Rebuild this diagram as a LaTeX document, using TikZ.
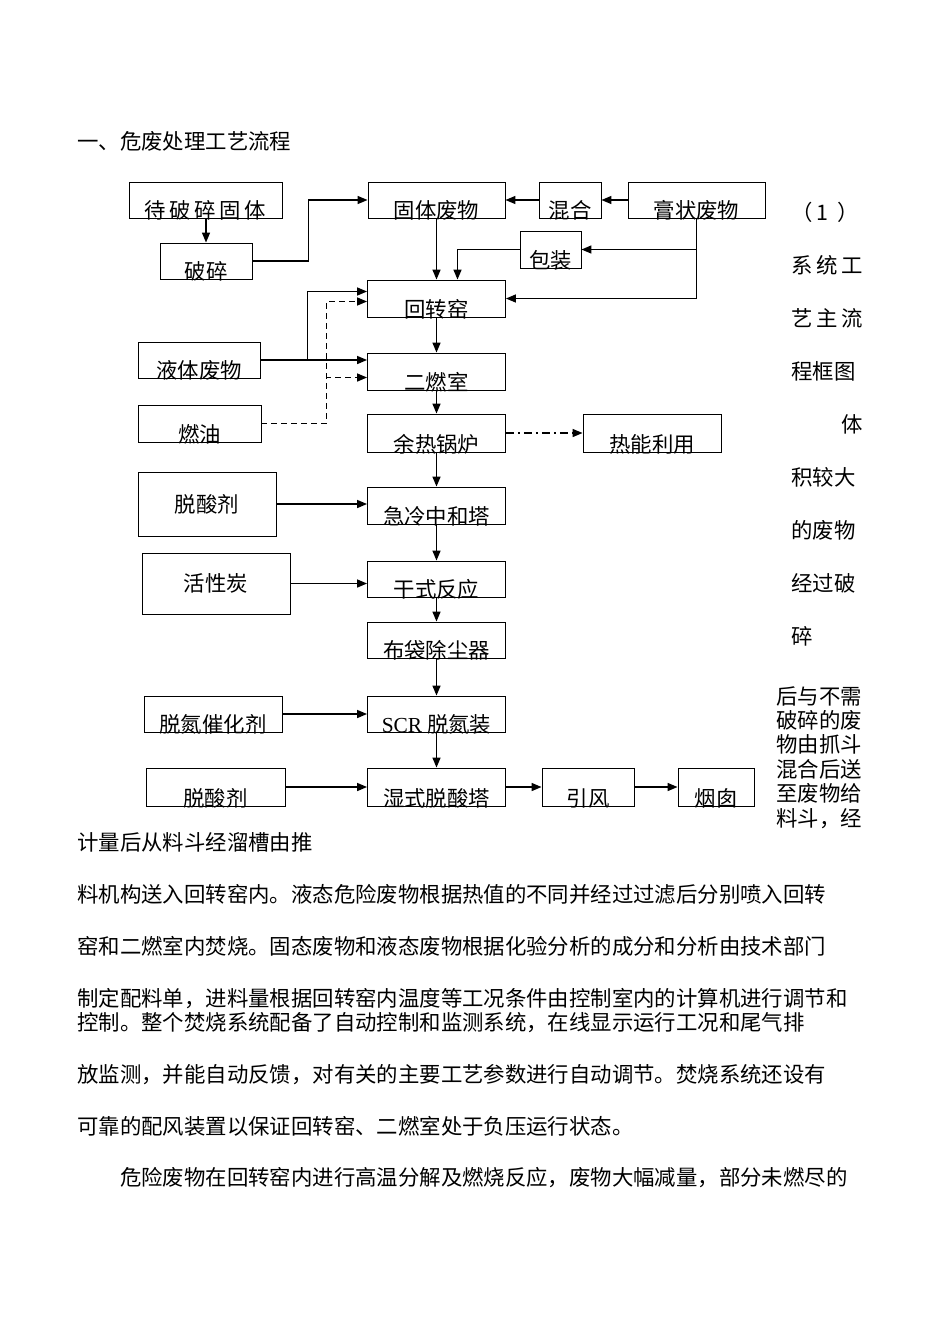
\documentclass[tikz,border=0pt]{standalone}
\usepackage{fontspec}
\setmainfont{Noto Sans CJK SC}
\newfontfamily\latinfont{Liberation Serif}
\usetikzlibrary{arrows.meta}
\newcommand\lblfont{\fontsize{21.4}{24}\selectfont}

\begin{document}
\begin{tikzpicture}[x=1pt, y=-1pt]
    \tikzstyle{every node} = [font=\lblfont]
    \tikzstyle{box} = [draw, line width=0.9pt, inner sep=0pt, text height=36pt, text depth=0pt]
    \tikzstyle{cbox} = [draw, line width=0.9pt, inner sep=0pt]
    \tikzstyle{arr} = [line width=1.5pt, -{Triangle[length=10pt,width=8pt]}]
    \tikzstyle{dasharr} = [arr, dash pattern=on 6pt off 4pt]
    \tikzstyle{dotarr} = [arr, dash pattern=on 8pt off 4pt on 2pt off 4pt]
    \tikzstyle{txt} = [inner sep=0pt, align=left]
    \useasboundingbox[fill=white] (0,0) rectangle (950,1344);

    % feed side
    \node[box, minimum width=153pt] (dps) at (205.5,200) {待\,破\,碎\,固\,体};
    \node[box, minimum width=92pt] (ps) at (206,261) {破碎};
    \node[box, minimum width=137pt] (gtfw) at (436.5,200) {固体废物};
    \node[box, minimum width=62pt] (hh) at (570,200) {混合};
    \node[box, minimum width=137pt] (gzfw) at (696.5,200) {膏状废物};
    \node[box, minimum width=61pt, text height=37pt] (bz) at (550.5,249.5) {包装};
    \node[box, minimum width=122pt] (ytfw) at (199,360) {液体废物};
    \node[box, minimum width=123pt, text height=37pt] (ry) at (199.5,423.5) {燃油};
    \node[cbox, minimum width=138pt, minimum height=64pt] (tsj) at (207,504) {脱酸剂};
    \node[cbox, minimum width=148pt, minimum height=61pt] (hxt) at (216,583.5) {活性炭};
    \node[box, minimum width=138pt] (tdch) at (213,714) {脱氮催化剂};
    \node[box, minimum width=139pt, text height=38pt] (tsj2) at (215.5,787) {脱酸剂};

    % main line
    \node[box, minimum width=138pt, text height=37pt] (hzy) at (436.5,298.5) {回转窑};
    \node[box, minimum width=138pt, text height=37pt] (erc) at (436.5,371.5) {二燃室};
    \node[box, minimum width=138pt, text height=38pt] (yrgl) at (436.5,433) {余热锅炉};
    \node[box, minimum width=138pt, text height=38pt] (rnly) at (652,433) {热能利用};
    \node[box, minimum width=138pt, text height=37pt] (jl) at (436.5,505.5) {急冷中和塔};
    \node[box, minimum width=138pt] (gsfy) at (436.5,579) {干式反应};
    \node[box, minimum width=138pt] (bd) at (436.5,640) {布袋除尘器};
    \node[box, minimum width=138pt] (scr) at (436.5,714) {{\latinfont SCR} 脱氮装};
    \node[box, minimum width=138pt, text height=38pt] (ss) at (436.5,787) {湿式脱酸塔};
    \node[box, minimum width=92pt, text height=38pt] (yf) at (588,787) {引风};
    \node[box, minimum width=76pt, text height=38pt] (yc) at (716,787) {烟囱};

    \draw[arr] (ps.north |- dps.south) -- (ps.north);
    \draw[arr] (ps.east) -- ++(56,0) |- (gtfw.west);
    \draw[arr] (hh.west) -- (gtfw.east);
    \draw[arr] (gzfw.west) -- (hh.east);
    \draw[arr] (gtfw.south) -- (hzy.north);
    \draw[arr] (gzfw.south) |- (bz.east);
    \draw[arr] (gzfw.south) |- (hzy.east);
    \draw[arr] (bz.west) -| ([xshift=21pt]hzy.north);
    \draw[arr] (ytfw.east) -- (ytfw.east -| erc.west);
    \draw[arr] (ytfw.east) ++(47,0) |- ([yshift=7pt]hzy.west);
    \draw[dasharr] (ry.east) -- ++(65,0) |- ([yshift=-6pt]erc.west);
    \draw[dasharr] (ry.east) -- ++(65,0) |- ([yshift=-3pt]hzy.west);
    \draw[arr] (hzy.south) -- (erc.north);
    \draw[arr] (erc.south) -- (yrgl.north);
    \draw[dotarr] (yrgl.east) -- (rnly.west);
    \draw[arr] (yrgl.south) -- (jl.north);
    \draw[arr] (tsj.east) -- (tsj.east -| jl.west);
    \draw[arr] (jl.south) -- (gsfy.north);
    \draw[arr] (hxt.east) -- (hxt.east -| gsfy.west);
    \draw[arr] (gsfy.south) -- (bd.north);
    \draw[arr] (bd.south) -- (scr.north);
    \draw[arr] (tdch.east) -- (scr.west);
    \draw[arr] (scr.south) -- (ss.north);
    \draw[arr] (tsj2.east) -- (ss.west);
    \draw[arr] (ss.east) -- (yf.west);
    \draw[arr] (yf.east) -- (yc.west);

    % text round the chart
    \node[txt, anchor=west] (title) at (77,141) {一、危废处理工艺流程};
    \node[txt, anchor=north west, font=\fontsize{21.4}{53}\selectfont] (side) at (791,202)
        {（\,1\kern9pt）\\系\,统\,工\\艺\,主\,流\\程框图\\\hspace*{2.35em}体\\积较大\\的废物\\经过破\\碎};
    \node[txt, anchor=north west, font=\fontsize{21.4}{24.4}\selectfont] (sidelow) at (776,686)
        {后与不需\\破碎的废\\物由抓斗\\混合后送\\至废物给\\料斗，经};
    \node[txt, anchor=north west] (body) at (77,832)
        {计量后从料斗经溜槽由推\\[28pt]
         料机构送入回转窑内。液态危险废物根据热值的不同并经过过滤后分别喷入回转\\[28pt]
         窑和二燃室内焚烧。固态废物和液态废物根据化验分析的成分和分析由技术部门\\[28pt]
         制定配料单，进料量根据回转窑内温度等工况条件由控制室内的计算机进行调节和\\
         控制。整个焚烧系统配备了自动控制和监测系统，在线显示运行工况和尾气排\\[28pt]
         放监测，并能自动反馈，对有关的主要工艺参数进行自动调节。焚烧系统还设有\\[28pt]
         可靠的配风装置以保证回转窑、二燃室处于负压运行状态。\\[27pt]
         \hspace*{2em}危险废物在回转窑内进行高温分解及燃烧反应，废物大幅减量，部分未燃尽的};
\end{tikzpicture}
\end{document}
